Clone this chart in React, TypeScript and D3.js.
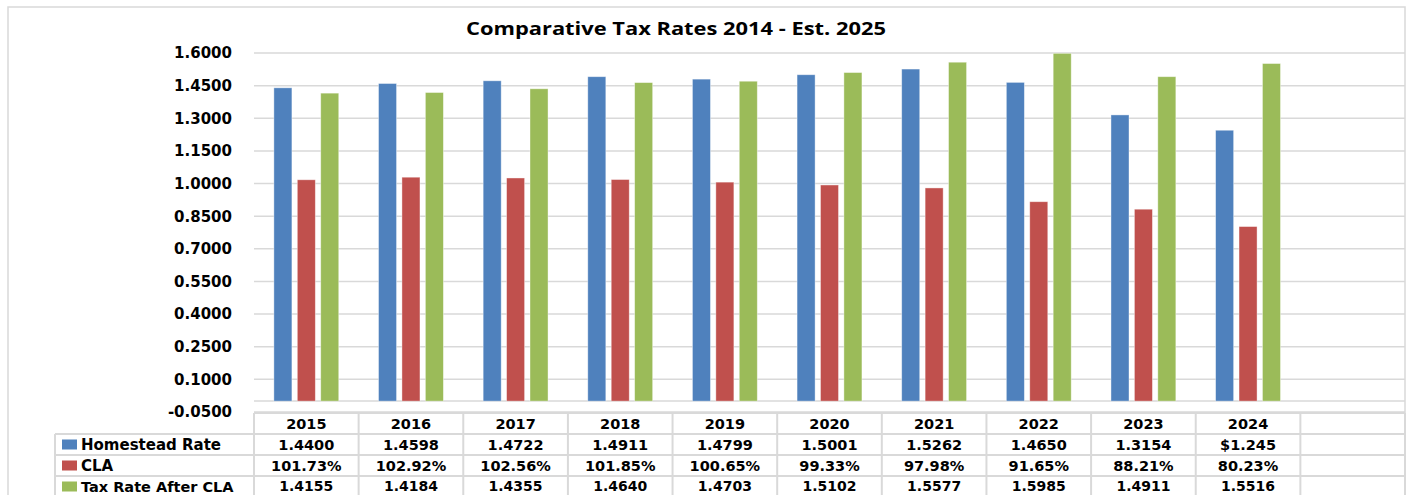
import * as d3 from 'd3'
import React from 'react'

const years = ['2015', '2016', '2017', '2018', '2019', '2020', '2021', '2022', '2023', '2024']
const homestead = [1.44, 1.4598, 1.4722, 1.4911, 1.4799, 1.5001, 1.5262, 1.465, 1.3154, 1.245]
const cla = [1.0173, 1.0292, 1.0256, 1.0185, 1.0065, 0.9933, 0.9798, 0.9165, 0.8821, 0.8023]
const afterCla = [1.4155, 1.4184, 1.4355, 1.464, 1.4703, 1.5102, 1.5577, 1.5985, 1.4911, 1.5516]
const homesteadLabels = ['1.4400', '1.4598', '1.4722', '1.4911', '1.4799', '1.5001', '1.5262', '1.4650', '1.3154', '$1.245']
const claLabels = ['101.73%', '102.92%', '102.56%', '101.85%', '100.65%', '99.33%', '97.98%', '91.65%', '88.21%', '80.23%']
const afterLabels = ['1.4155', '1.4184', '1.4355', '1.4640', '1.4703', '1.5102', '1.5577', '1.5985', '1.4911', '1.5516']
const yTicks = [-0.05, 0.1, 0.25, 0.4, 0.55, 0.7, 0.85, 1.0, 1.15, 1.3, 1.45, 1.6]

const series = [
  { name: 'Homestead Rate', color: '#4F81BD', values: homestead, labels: homesteadLabels },
  { name: 'CLA', color: '#C0504D', values: cla, labels: claLabels },
  { name: 'Tax Rate After CLA', color: '#9BBB59', values: afterCla, labels: afterLabels },
]

const W = 1411
const H = 495
const left = 254
const right = 1405
const top = 53
const bottom = 412
const rowH = 21
const font = "'DejaVu Sans', Verdana, sans-serif"
const grid = '#d9d9d9'

export default function App() {
  // one extra empty column at the right, as in the source
  const cols = [...years, '']
  const x = d3.scaleBand().domain(cols).range([left, right]).padding(0)
  const y = d3.scaleLinear().domain([-0.05, 1.6]).range([bottom, top])
  const bw = x.bandwidth()
  const sub = d3
    .scaleBand()
    .domain(series.map((s) => s.name))
    .range([bw * 0.19, bw * 0.81])
    .paddingInner(0.23)

  const tableTop = bottom + 1
  const legendLeft = 55
  const fmt = (v: number) => d3.format('.4f')(v).replace('−', '-')

  return (
    <div style={{ position: 'fixed', left: 0, top: 0 }}>
      <svg width={W} height={H} style={{ display: 'block', background: '#fff' }}>
        <rect x={8} y={7} width={1397} height={H} fill="#fff" stroke="#d9d9d9" strokeWidth={1.5} />
        <text
          x={676}
          y={35}
          textAnchor="middle"
          fontFamily="'Open Sans', 'Noto Sans', sans-serif"
          fontWeight="bold"
          fontSize={18}
          textLength={420}
          lengthAdjust="spacingAndGlyphs"
          fill="#000"
        >
          Comparative Tax Rates 2014 - Est. 2025
        </text>

        {yTicks.map((t) => (
          <g key={t}>
            <line x1={left} x2={right} y1={y(t)} y2={y(t)} stroke={grid} strokeWidth={1.5} />
            <text
              x={232}
              y={y(t)}
              dy="0.36em"
              textAnchor="end"
              fontFamily={font}
              fontWeight="bold"
              fontSize={15}
              fill="#000"
            >
              {fmt(t)}
            </text>
          </g>
        ))}
        <line x1={left} x2={right} y1={y(0)} y2={y(0)} stroke={grid} strokeWidth={1.5} />

        {years.map((yr, i) => (
          <g key={yr} transform={`translate(${x(yr)},0)`}>
            {series.map((s) => (
              <rect
                key={s.name}
                x={sub(s.name)}
                y={y(s.values[i])}
                width={sub.bandwidth()}
                height={y(0) - y(s.values[i])}
                fill={s.color}
                stroke="#ffffff"
                strokeOpacity={0.5}
                strokeWidth={0.8}
              />
            ))}
          </g>
        ))}

        {/* data table */}
        <g fontFamily={font} fontWeight="bold" fontSize={14.5} fill="#000">
          <line x1={left} x2={right} y1={tableTop} y2={tableTop} stroke={grid} strokeWidth={2} />
          {[1, 2, 3, 4].map((r) => (
            <line
              key={r}
              x1={legendLeft}
              x2={right}
              y1={tableTop + r * rowH}
              y2={tableTop + r * rowH}
              stroke={grid}
              strokeWidth={2}
            />
          ))}
          <line x1={legendLeft} x2={legendLeft} y1={tableTop + rowH} y2={H} stroke={grid} strokeWidth={2} />
          {cols.map((c) => (
            <line
              key={`v${c}`}
              x1={x(c)}
              x2={x(c)}
              y1={tableTop}
              y2={H}
              stroke={grid}
              strokeWidth={2}
            />
          ))}
          <line x1={right} x2={right} y1={tableTop} y2={H} stroke={grid} strokeWidth={2} />

          {years.map((yr) => (
            <text
              key={`h${yr}`}
              x={(x(yr) ?? 0) + bw / 2}
              y={tableTop + rowH / 2}
              dy="0.35em"
              textAnchor="middle"
            >
              {yr}
            </text>
          ))}

          {series.map((s, r) => {
            const cy = tableTop + rowH * (r + 1) + rowH / 2
            const fs = r === 2 ? 14 : 14.5
            return (
              <g key={s.name} fontSize={fs}>
                <rect x={62} y={cy - 5} width={15} height={10} fill={s.color} />
                <text x={81} y={cy} dy="0.35em" fontSize={fs + 0.5}>
                  {s.name}
                </text>
                {years.map((yr, i) => (
                  <text
                    key={yr}
                    x={(x(yr) ?? 0) + bw / 2}
                    y={cy}
                    dy="0.35em"
                    textAnchor="middle"
                  >
                    {s.labels[i]}
                  </text>
                ))}
              </g>
            )
          })}
        </g>
      </svg>
    </div>
  )
}
